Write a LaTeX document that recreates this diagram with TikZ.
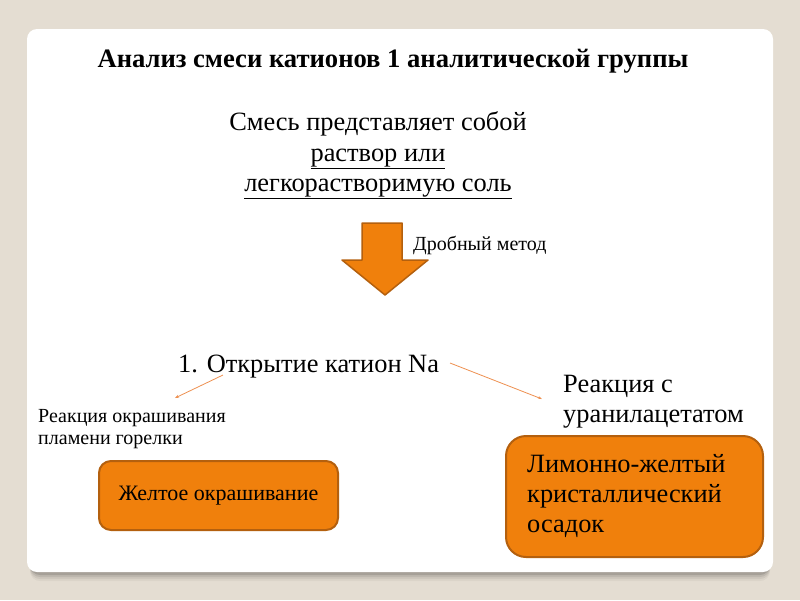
\documentclass[tikz,border=0pt]{standalone}
\usepackage{fontspec}
\setmainfont{Liberation Serif}
\usetikzlibrary{arrows.meta}
\definecolor{bgbeige}{HTML}{E4DDD2}
\definecolor{boxorange}{HTML}{F0800C}
\definecolor{boxedge}{HTML}{B4600E}
\definecolor{lineorange}{HTML}{EE9050}
\tikzset{
  resultbox/.style={draw=boxedge, line width=2pt, fill=boxorange, rounded corners=12pt},
  thinarrow/.style={draw=lineorange, line width=0.8pt, -{Stealth[length=4pt,width=3pt]}},
  plaintext/.style={inner sep=0pt, anchor=base west},
  bigfont/.style={font=\fontsize{26.4}{30}\selectfont},
  smallfont/.style={font=\fontsize{20}{22}\selectfont}
}
\begin{document}
\begin{tikzpicture}[x=1pt, y=-1pt, line join=round]
  \useasboundingbox (0,0) rectangle (800,600);
  \fill[bgbeige] (0,0) rectangle (800,600);
  % panel with shadow
  \foreach \s/\o in {9/0.04,7/0.06,5/0.08,3/0.12}
    \fill[black, opacity=\o, rounded corners=10pt] (30,36) rectangle (770,572+\s);
  \fill[white, rounded corners=10pt] (27,29) rectangle (773,572);
  % texts
  \node[plaintext, anchor=base, font=\bfseries\fontsize{26.6}{30}\selectfont] (title) at (393,67) {Анализ смеси катионов 1 аналитической группы};
  \node[plaintext, anchor=base, bigfont] (mix1) at (378,130) {Смесь представляет собой};
  \node[plaintext, anchor=base, bigfont] (mix2) at (378,161) {\underline{раствор или}};
  \node[plaintext, anchor=base, bigfont] (mix3) at (378,191) {\underline{легкорастворимую соль}};
  % big arrow
  \draw[boxedge, fill=boxorange, line width=1.5pt] (362,223) -- (402,223) -- (402,260) -- (428,260)
    -- (385,295) -- (342,260) -- (362,260) -- cycle;
  \node[plaintext, smallfont] (method) at (413,250) {Дробный метод};
  \node[plaintext, bigfont] (na) at (178,372) {1. Открытие катион Na};
  % base of a multi-line node is its last line
  \node[plaintext, smallfont, align=left] (flame) at (38,444) {Реакция окрашивания\\пламени горелки};
  \node[plaintext, bigfont, align=left] (uranyl) at (563,422) {Реакция с\\уранилацетатом};
  % result boxes
  \draw[resultbox] (99,461) rectangle (338,530);
  \node[plaintext, anchor=base, font=\fontsize{22}{26}\selectfont] (yellow) at (218.5,500) {Желтое окрашивание};
  \draw[resultbox, rounded corners=20pt] (506,436) rectangle (763,557);
  \node[plaintext, bigfont, align=left] (precip) at (527,532) {Лимонно-желтый\\кристаллический\\осадок};
  % connectors
  \coordinate (leftstart) at (223,375);
  \coordinate (leftend) at (175,398);
  \coordinate (rightstart) at (450,363);
  \coordinate (rightend) at (542,399);
  \draw[thinarrow] (leftstart) -- (leftend);
  \draw[thinarrow] (rightstart) -- (rightend);
\end{tikzpicture}
\end{document}
